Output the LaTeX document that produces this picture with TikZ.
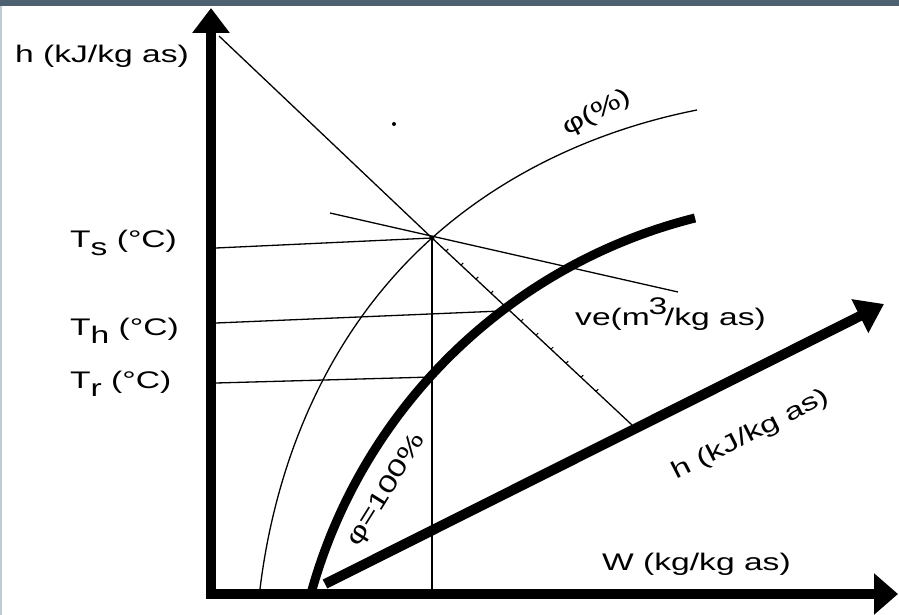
\documentclass[tikz,border=0pt]{standalone}
\usepackage{fontspec}
\setmainfont{Liberation Sans}[FakeStretch=1.4]
\usetikzlibrary{arrows.meta,calc}
\definecolor{framebar}{HTML}{4D6170}
\definecolor{frameside}{HTML}{BFCAD1}
\tikzset{
  axis/.style     = {line width=10pt},
  uphead/.style   = {-{Triangle[length=25pt,width=36pt]}},
  righthead/.style= {-{Triangle[length=24pt,width=40pt]}},
  slanthead/.style= {-{Triangle[length=27pt,width=36pt]}},
  thinline/.style = {line width=1.3pt},
  satcurve/.style = {line width=9pt},
  lbl/.style      = {inner sep=0pt, anchor=base west},
}
\newcommand{\lowsub}[1]{\raisebox{-0.36em}{#1}}

\begin{document}
\begin{tikzpicture}[x=1pt,y=-1pt,font=\fontsize{24}{28}\selectfont]
\useasboundingbox (0,0) rectangle (899,615);
% ---- frame ----
\fill[framebar] (0,0) rectangle (899,6);
\fill[frameside] (0,6) rectangle (2,615);
% ---- key points ----
\coordinate (Vbot)  at (211,599);
\coordinate (Vtop)  at (211,8);
\coordinate (Hleft) at (206,594);
\coordinate (Hright) at (898,594);
\coordinate (Dfoot) at (325,584);
\coordinate (Dtip)  at (884,304);
\coordinate (P)     at (432,238);
\coordinate (hTop)  at (219,36);
\coordinate (hFoot) at (632,425);
\coordinate (TsL)   at (216,248);
\coordinate (ThL)   at (216,323);
\coordinate (ThR)   at (501,311);
\coordinate (TrL)   at (216,383);
\coordinate (TrR)   at (432,377);
\coordinate (veA)   at (330,213);
\coordinate (veB)   at (678,292);
\coordinate (Pfoot) at (432,589);
\coordinate (phiA)  at (260,589);
\coordinate (phiB)  at (697,110);
\coordinate (satA)  at (312,590);
\coordinate (satB)  at (695,218);
% ---- thin lines through the state point ----
\draw[thinline] (hTop) -- (P) -- (hFoot);
\draw[thinline] (TsL) -- (P);
\draw[thinline] (veA) -- (veB);
\draw[thinline] (P) -- (Pfoot);
\draw[thinline] (ThL) -- (ThR);
\draw[thinline] (TrL) -- (TrR);
\foreach \t in {0.07,0.145,...,0.89}
  \draw[line width=1pt] ($(P)!\t!(hFoot)$) -- ++(2.2,-2.2);
% ---- relative humidity curves ----
\draw[thinline] (phiA) .. controls (276.4,455.2) and (331.6,327.8) .. (P)
  .. controls (506.2,171.6) and (599.3,129.3) .. (phiB);
\draw[satcurve] (satA) .. controls (363.9,406.4) and (509.9,264.5) .. (satB);
\fill (P) circle (2.5);
\fill (394,124) circle (2);
% ---- axes ----
\draw[axis,uphead] (Vbot) -- (Vtop);
\draw[axis,righthead] (Hleft) -- (Hright);
\draw[axis,slanthead] (Dfoot) -- (Dtip);
% ---- labels ----
\node[lbl] (hlab)  at (15,63)  {h (kJ/kg as)};
\node[lbl] (tslab) at (70,247) {T\lowsub{s} (°C)};
\node[lbl] (thlab) at (70,335) {T\lowsub{h} (°C)};
\node[lbl] (trlab) at (70,388) {T\lowsub{r} (°C)};
\node[lbl] (velab) at (575,325) {ve(m\hspace{-0.05em}\raisebox{0.45em}{3}\hspace{-0.1em}/kg as)};
\node[lbl] (wlab)  at (602,570) {W (kg/kg as)};
\node[lbl,rotate=27] (hslab) at (676,480) {h (kJ/kg as)};
\node[inner sep=0pt,rotate=28] (philab) at (597,113) {φ(\%)};
\node[inner sep=0pt,rotate=58] (satlab) at (387,490) {φ=100\%};
\end{tikzpicture}
\end{document}
